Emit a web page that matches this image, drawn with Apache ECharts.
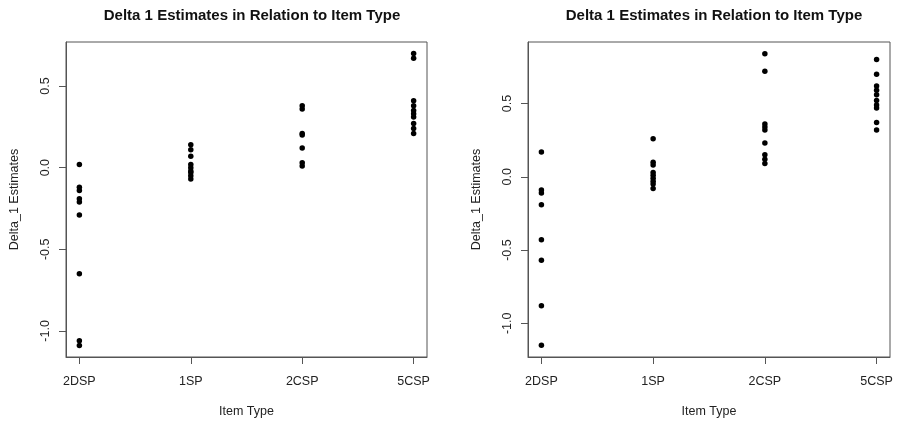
<!DOCTYPE html>
<html>
<head>
<meta charset="utf-8">
<title>Delta 1 Estimates</title>
<script src="https://cdn.jsdelivr.net/npm/echarts@6/dist/echarts.min.js"></script>
<style>
  html, body { margin: 0; padding: 0; background: #fff; }
  #chart { width: 897px; height: 424px; }
</style>
</head>
<body>
<div id="chart"></div>
<script>
// item types, plotted at x = 1..4
const categories = ['2DSP', '1SP', '2CSP', '5CSP']
const yTicks = [-1.0, -0.5, 0.0, 0.5]

// left panel estimates
const leftDSP2 = [0.02, -0.12, -0.14, -0.19, -0.21, -0.29, -0.65, -1.06, -1.09]
const leftSP1 = [0.14, 0.11, 0.07, 0.02, 0.00, -0.02, -0.03, -0.05, -0.07]
const leftCSP2 = [0.38, 0.36, 0.21, 0.20, 0.12, 0.03, 0.01]
const leftCSP5 = [0.70, 0.67, 0.41, 0.38, 0.35, 0.33, 0.31, 0.27, 0.24, 0.21]

// right panel estimates
const rightDSP2 = [0.17, -0.09, -0.11, -0.19, -0.43, -0.57, -0.88, -1.15]
const rightSP1 = [0.26, 0.10, 0.08, 0.03, 0.01, -0.01, -0.03, -0.05, -0.08]
const rightCSP2 = [0.84, 0.72, 0.36, 0.34, 0.32, 0.23, 0.15, 0.12, 0.09]
const rightCSP5 = [0.80, 0.70, 0.62, 0.59, 0.56, 0.52, 0.49, 0.47, 0.37, 0.32]

const toPoints = (groups) => {
  const pts = []
  groups.forEach((vals, i) => {
    vals.forEach(v => pts.push([i + 1, v]))
  })
  return pts
}

const leftPoints = toPoints([leftDSP2, leftSP1, leftCSP2, leftCSP5])
const rightPoints = toPoints([rightDSP2, rightSP1, rightCSP2, rightCSP5])

const FONT = '"Liberation Sans", Arial, Helvetica, sans-serif'
const lineColor = '#555'

const makeX = (gridIndex) => ({
  type: 'value',
  gridIndex,
  min: 0.88,
  max: 4.12,
  name: 'Item Type',
  nameLocation: 'middle',
  nameGap: 48,
  nameTextStyle: { fontFamily: FONT, fontSize: 12.5, color: '#222' },
  axisLine: { show: true, onZero: false, lineStyle: { color: lineColor, width: 1 } },
  axisTick: { show: true, length: 7, customValues: [1, 2, 3, 4], lineStyle: { color: lineColor } },
  axisLabel: {
    customValues: [1, 2, 3, 4],
    formatter: (v) => categories[Math.round(v) - 1],
    margin: 18,
    fontFamily: FONT,
    fontSize: 12.5,
    color: '#222'
  },
  splitLine: { show: false }
})

const makeY = (gridIndex, min, max) => ({
  type: 'value',
  gridIndex,
  min,
  max,
  name: 'Delta_1 Estimates',
  nameLocation: 'middle',
  nameGap: 45,
  nameTextStyle: { fontFamily: FONT, fontSize: 12.5, color: '#222' },
  axisLine: { show: true, onZero: false, lineStyle: { color: lineColor, width: 1 } },
  axisTick: { show: true, length: 7, customValues: yTicks, lineStyle: { color: lineColor } },
  axisLabel: {
    customValues: yTicks,
    formatter: (v) => v.toFixed(1),
    rotate: 90,
    margin: 14,
    fontFamily: FONT,
    fontSize: 12.5,
    color: '#222'
  },
  splitLine: { show: false }
})

const chart = echarts.init(document.getElementById('chart'), null, { renderer: 'canvas' })

const titleStyle = { fontFamily: FONT, fontSize: 15, fontWeight: 'bold', color: '#111' }

const option = {
  animation: false,
  backgroundColor: '#fff',
  title: [
    { text: 'Delta 1 Estimates in Relation to Item Type', left: 247, top: 3, textAlign: 'center', textStyle: titleStyle },
    { text: 'Delta 1 Estimates in Relation to Item Type', left: 709, top: 3, textAlign: 'center', textStyle: titleStyle }
  ],
  grid: [
    { left: 66, top: 42, width: 361, height: 315, show: true, borderColor: lineColor, borderWidth: 1, backgroundColor: 'transparent' },
    { left: 528, top: 42, width: 362, height: 315, show: true, borderColor: lineColor, borderWidth: 1, backgroundColor: 'transparent' }
  ],
  xAxis: [makeX(0), makeX(1)],
  yAxis: [makeY(0, -1.16, 0.77), makeY(1, -1.23, 0.92)],
  series: [
    {
      type: 'scatter',
      xAxisIndex: 0,
      yAxisIndex: 0,
      data: leftPoints,
      symbolSize: 5.5,
      itemStyle: { color: '#000', opacity: 1 }
    },
    {
      type: 'scatter',
      xAxisIndex: 1,
      yAxisIndex: 1,
      data: rightPoints,
      symbolSize: 5.5,
      itemStyle: { color: '#000', opacity: 1 }
    }
  ]
}

chart.setOption(option)
</script>
</body>
</html>
